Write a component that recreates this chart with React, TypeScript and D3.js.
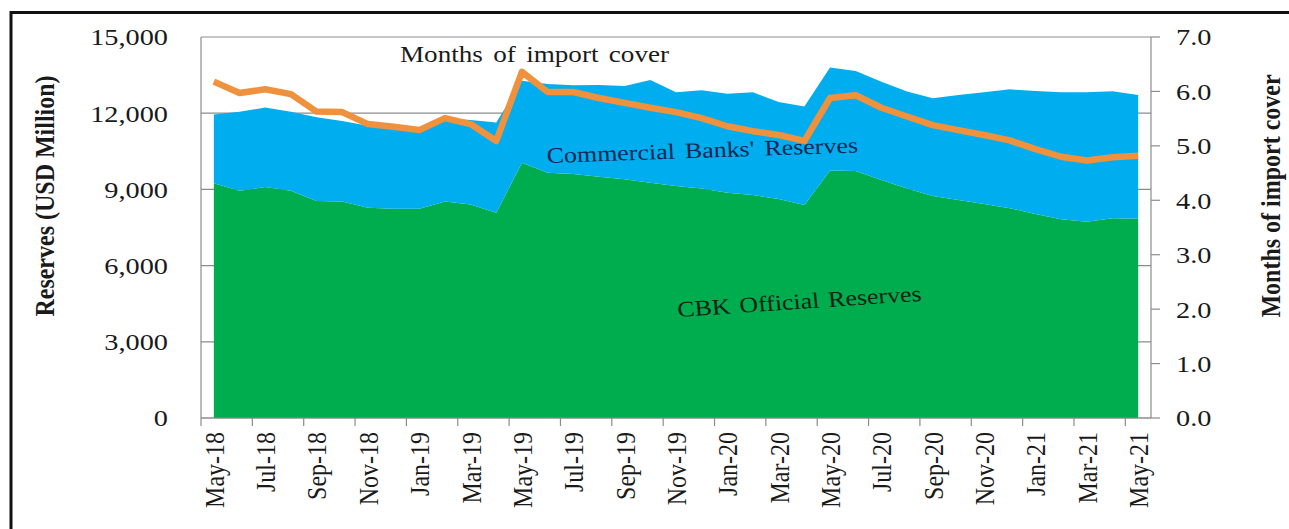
import React from "react";
import * as d3 from "d3";

const months = [
  "May-18","Jun-18","Jul-18","Aug-18","Sep-18","Oct-18","Nov-18","Dec-18",
  "Jan-19","Feb-19","Mar-19","Apr-19","May-19","Jun-19","Jul-19","Aug-19",
  "Sep-19","Oct-19","Nov-19","Dec-19","Jan-20","Feb-20","Mar-20","Apr-20",
  "May-20","Jun-20","Jul-20","Aug-20","Sep-20","Oct-20","Nov-20","Dec-20",
  "Jan-21","Feb-21","Mar-21","Apr-21","May-21",
];

// CBK official reserves (USD million)
const cbkReserves = [
  9240, 8950, 9090, 8950, 8540, 8520, 8280, 8240, 8240, 8520, 8410, 8080,
  10050, 9660, 9610, 9500, 9400, 9260, 9130, 9040, 8870, 8780, 8620, 8390,
  9740, 9720, 9370, 9040, 8740, 8580, 8430, 8260, 8030, 7820, 7730, 7860, 7840,
];

// Commercial banks' reserves (USD million)
const bankReserves = [
  2710, 3110, 3130, 3110, 3300, 3170, 3230, 3190, 3140, 3280, 3320, 3550,
  3230, 3490, 3490, 3610, 3670, 4050, 3690, 3860, 3900, 4040, 3820, 3870,
  4060, 3940, 3870, 3810, 3850, 4140, 4390, 4680, 4840, 5000, 5090, 5000, 4880,
];

// Months of import cover
const importCover = [
  6.18, 5.97, 6.04, 5.95, 5.63, 5.62, 5.40, 5.35, 5.29, 5.51, 5.40, 5.09,
  6.36, 5.99, 5.99, 5.88, 5.79, 5.70, 5.62, 5.51, 5.36, 5.27, 5.20, 5.09,
  5.88, 5.93, 5.70, 5.54, 5.38, 5.29, 5.20, 5.10, 4.94, 4.80, 4.73, 4.79, 4.82,
];

const leftTicks = [0, 3000, 6000, 9000, 12000, 15000];
const rightTicks = [0, 1, 2, 3, 4, 5, 6, 7];

const W = 1289;
const H = 529;
const plot = { left: 201, right: 1151, top: 37, bottom: 418 };
const SX = 1.18;
const FONT = "'Liberation Serif', 'Times New Roman', serif";
const AXIS = "#8c8c8c";
const TEXT = "#1a1a1a";

export default function App() {
  const x = d3.scaleBand<string>().domain(months).range([plot.left, plot.right]).padding(0);
  const cx = (m: string) => (x(m) as number) + x.bandwidth() / 2;
  const yL = d3.scaleLinear().domain([0, 15000]).range([plot.bottom, plot.top]);
  const yR = d3.scaleLinear().domain([0, 7]).range([plot.bottom, plot.top]);

  const rows = months.map((m, i) => ({ month: m, cbk: cbkReserves[i], banks: bankReserves[i] }));
  const stacked = d3.stack<any>().keys(["cbk", "banks"])(rows);
  const area = d3
    .area<any>()
    .x((d) => cx(d.data.month))
    .y0((d) => yL(d[0]))
    .y1((d) => yL(d[1]));
  const colors = ["#00AD4E", "#00AEEF"];

  const line = d3
    .line<number>()
    .x((_, i) => cx(months[i]))
    .y((d) => yR(d));

  const fmtL = d3.format(",");
  const fmtR = d3.format(".1f");

  const st = (x0: number, y0: number, rot = 0) =>
    `translate(${x0},${y0}) scale(${SX},1) rotate(${rot})`;

  return (
    <svg
      width={W}
      height={H}
      style={{ position: "absolute", left: 0, top: 0, background: "#fff" }}
      fontFamily={FONT}
    >
      <rect x={0} y={0} width={W} height={H} fill="#fff" />
      {/* gridlines */}
      {leftTicks.map((t) => (
        <line key={"g" + t} x1={plot.left} x2={plot.right} y1={yL(t)} y2={yL(t)} stroke={AXIS} strokeWidth={1.2} />
      ))}
      {/* areas */}
      {stacked.map((s, i) => (
        <path key={s.key} d={area(s) as string} fill={colors[i]} />
      ))}
      {/* import cover line */}
      <path
        d={line(importCover) as string}
        fill="none"
        stroke="#F0913D"
        strokeWidth={6.5}
        strokeLinejoin="round"
        strokeLinecap="butt"
      />
      {/* axes */}
      <line x1={plot.left} x2={plot.left} y1={plot.top} y2={plot.bottom} stroke={AXIS} strokeWidth={1.2} />
      <line x1={plot.right} x2={plot.right} y1={plot.top} y2={plot.bottom} stroke={AXIS} strokeWidth={1.2} />
      <line x1={plot.left} x2={plot.right} y1={plot.bottom} y2={plot.bottom} stroke={AXIS} strokeWidth={1.2} />
      {months.map((m, i) =>
        i % 2 === 0 ? (
          <line key={"xt" + m} x1={x(m)} x2={x(m)} y1={plot.bottom} y2={plot.bottom + 8} stroke={AXIS} strokeWidth={1.2} />
        ) : null
      )}
      {rightTicks.map((t) => (
        <line key={"rt" + t} x1={plot.right} x2={plot.right + 9} y1={yR(t)} y2={yR(t)} stroke={AXIS} strokeWidth={1.2} />
      ))}
      {/* left tick labels */}
      {leftTicks.map((t) => (
        <text key={"ll" + t} transform={st(168, yL(t))} textAnchor="end" dy="0.35em" fontSize={24} fill={TEXT}>
          {fmtL(t)}
        </text>
      ))}
      {/* right tick labels */}
      {rightTicks.map((t) => (
        <text key={"rl" + t} transform={st(1176, yR(t))} textAnchor="start" dy="0.35em" fontSize={24} fill={TEXT}>
          {fmtR(t)}
        </text>
      ))}
      {/* x labels */}
      {months.map((m, i) =>
        i % 2 === 0 ? (
          <text key={"xl" + m} transform={st(cx(m), 432, -90)} textAnchor="end" dy="0.35em" fontSize={24} fill={TEXT}>
            {m}
          </text>
        ) : null
      )}
      {/* axis titles */}
      <text transform={st(44, 196, -90)} textAnchor="middle" dy="0.35em" fontSize={24} fontWeight="bold" fill={TEXT}>
        Reserves (USD Million)
      </text>
      <text transform={st(1270, 196, -90)} textAnchor="middle" dy="0.35em" fontSize={24} fontWeight="bold" fill={TEXT}>
        Months of import cover
      </text>
      {/* annotations */}
      <text transform={st(400, 62)} fontSize={23} fill={TEXT} wordSpacing={3}>
        Months of import cover
      </text>
      <text transform={st(547, 163, -2.3)} fontSize={22} fill="#0d2550" wordSpacing={3}>
        Commercial Banks' Reserves
      </text>
      <text transform={st(678, 317, -4.5)} fontSize={22} fill="#0f1f14" wordSpacing={2}>
        CBK Official Reserves
      </text>
      {/* frame */}
      <rect x={11} y={12.5} width={W + 20} height={H + 20} fill="none" stroke="#111" strokeWidth={3} />
    </svg>
  );
}
